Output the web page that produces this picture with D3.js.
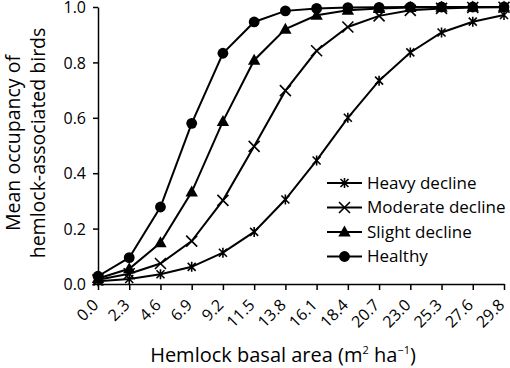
<!DOCTYPE html>
<html>
<head>
<meta charset="utf-8">
<script src="https://cdn.jsdelivr.net/npm/d3@7"></script>
<style>
  body { margin: 0; background: #fff; }
  text { font-family: "Open Sans", sans-serif; fill: #000; }
</style>
</head>
<body>
<svg id="chart" width="510" height="368"></svg>
<script>
// basal area categories (m2 ha-1)
var basal = ["0.0", "2.3", "4.6", "6.9", "9.2", "11.5", "13.8", "16.1", "18.4", "20.7", "23.0", "25.3", "27.6", "29.8"];

var heavy    = [0.010, 0.018, 0.035, 0.062, 0.113, 0.188, 0.305, 0.446, 0.600, 0.734, 0.836, 0.908, 0.947, 0.971];
var moderate = [0.015, 0.037, 0.074, 0.155, 0.302, 0.497, 0.698, 0.842, 0.928, 0.968, 0.988, 0.995, 0.998, 0.999];
var slight   = [0.020, 0.055, 0.149, 0.332, 0.587, 0.808, 0.920, 0.970, 0.988, 0.995, 0.998, 0.999, 1.000, 1.000];
var healthy  = [0.028, 0.095, 0.278, 0.580, 0.833, 0.946, 0.986, 0.995, 0.998, 0.999, 1.000, 1.000, 1.000, 1.000];

var yTicks = [0, 0.2, 0.4, 0.6, 0.8, 1.0];

var series = [
    { name: "Heavy decline", values: heavy, symbol: "star" },
    { name: "Moderate decline", values: moderate, symbol: "cross" },
    { name: "Slight decline", values: slight, symbol: "triangle" },
    { name: "Healthy", values: healthy, symbol: "circle" }
];

var margin = { left: 98, right: 6, top: 7, bottom: 84 };
var width = 510, height = 368;

var svg = d3.select("#chart");

var x = d3.scalePoint()
    .domain(basal)
    .range([margin.left, width - margin.right]);

var y = d3.scaleLinear()
    .domain([0, 1])
    .range([height - margin.bottom, margin.top]);

// draw a marker at 0,0 in group g
function drawMarker(g, symbol) {
    if (symbol == "circle") {
        g.append("circle").attr("r", 5.4).attr("fill", "#000");
    } else if (symbol == "triangle") {
        g.append("path").attr("d", "M0,-6.5L6.2,4.5L-6.2,4.5Z").attr("fill", "#000");
    } else if (symbol == "cross") {
        g.append("path").attr("d", "M-5.5,-5.5L5.5,5.5M-5.5,5.5L5.5,-5.5")
            .attr("stroke", "#000").attr("stroke-width", 1.6).attr("fill", "none");
    } else {
        g.append("path").attr("d", "M-4,-4L4,4M-4,4L4,-4M0,-5L0,5")
            .attr("stroke", "#000").attr("stroke-width", 1.6).attr("fill", "none");
    }
}

// axes
var yAxis = svg.append("g")
    .attr("transform", "translate(" + margin.left + ",0)")
    .call(d3.axisLeft(y).tickValues(yTicks).tickFormat(d3.format(".1f")).tickSize(5).tickSizeOuter(0));
yAxis.select(".domain").attr("stroke", "#000").attr("stroke-width", 1.5);
yAxis.selectAll(".tick line").attr("stroke", "#000").attr("stroke-width", 1.5);
yAxis.selectAll(".tick text").attr("x", -12).attr("dy", "0.35em")
    .style("font-size", "16px").style("font-family", "'Open Sans', sans-serif");

var xAxis = svg.append("g")
    .attr("transform", "translate(0," + (height - margin.bottom) + ")")
    .call(d3.axisBottom(x).tickSize(6).tickSizeOuter(0));
xAxis.select(".domain").attr("stroke", "#000").attr("stroke-width", 1.5);
xAxis.selectAll(".tick line").attr("stroke", "#000").attr("stroke-width", 1.5);
xAxis.selectAll(".tick text")
    .attr("y", 0).attr("dy", 0)
    .attr("text-anchor", "end")
    .attr("transform", "translate(1,22) rotate(-45)")
    .style("font-size", "16px").style("font-family", "'Open Sans', sans-serif");

// lines and markers
var line = d3.line()
    .x(function (d, i) { return x(basal[i]); })
    .y(function (d) { return y(d); });

series.forEach(function (s) {
    svg.append("path")
        .datum(s.values)
        .attr("d", line)
        .attr("fill", "none")
        .attr("stroke", "#000")
        .attr("stroke-width", 2);
    s.values.forEach(function (v, i) {
        var g = svg.append("g").attr("transform", "translate(" + x(basal[i]) + "," + y(v) + ")");
        drawMarker(g, s.symbol);
    });
});

// legend
var legend = svg.append("g").attr("transform", "translate(327,183)");
series.forEach(function (s, i) {
    var row = legend.append("g").attr("transform", "translate(0," + (i * 24.5) + ")");
    row.append("line").attr("x1", 0).attr("x2", 35).attr("y1", 0).attr("y2", 0)
        .attr("stroke", "#000").attr("stroke-width", 2);
    var m = row.append("g").attr("transform", "translate(17.5,0)");
    drawMarker(m, s.symbol);
    row.append("text").attr("x", 40).attr("y", 0).attr("dy", "0.35em")
        .style("font-size", "17px").text(s.name);
});

// axis titles
var yt = svg.append("text")
    .attr("transform", "translate(0,143) rotate(-90)")
    .attr("text-anchor", "middle")
    .style("font-size", "19.5px");
yt.append("tspan").attr("x", 0).attr("y", 20).text("Mean occupancy of");
yt.append("tspan").attr("x", 0).attr("y", 45).text("hemlock-associated birds");

var xt = svg.append("text")
    .attr("x", 283).attr("y", 362)
    .attr("text-anchor", "middle")
    .style("font-size", "20px");
xt.append("tspan").text("Hemlock basal area (m");
xt.append("tspan").attr("dy", -8).style("font-size", "11px").text("2");
xt.append("tspan").attr("dy", 8).text(" ha");
xt.append("tspan").attr("dy", -8).style("font-size", "11px").text("\u22121");
xt.append("tspan").attr("dy", 8).text(")");
</script>
</body>
</html>
